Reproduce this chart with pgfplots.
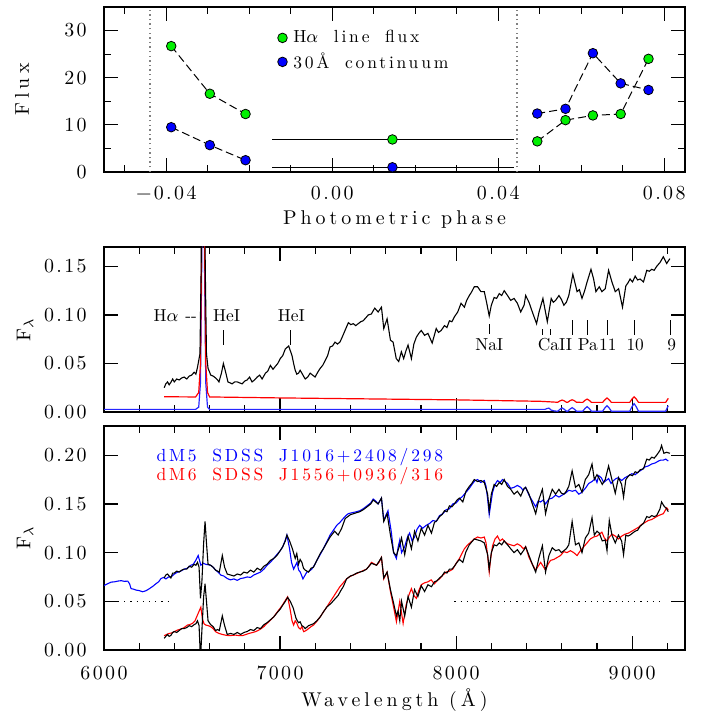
\documentclass[border=0pt]{standalone}
\usepackage{pgfplots}
\pgfplotsset{compat=1.18}
\usepackage{fontspec}
\newfontfamily\lsA[LetterSpace=20]{lmroman10-regular.otf}
\newfontfamily\lsC[LetterSpace=16,WordSpace=1.8]{lmroman10-regular.otf}
\newfontfamily\lsB[LetterSpace=12]{lmroman10-regular.otf}
\newfontfamily\lsN{lmroman10-regular.otf}
\definecolor{pgreen}{RGB}{0,240,0}
\pgfplotsset{
  panel/.style={
    scale only axis, width=290.5bp, scaled ticks=false,
    tick align=inside, major tick length=7bp, minor tick length=3.5bp,
    axis line style={line width=0.7pt},
    every tick/.style={black, line width=0.6pt},
    ticklabel style={font=\lsB\fontsize{10}{12}\selectfont},
    xticklabel style={anchor=center, inner sep=0pt},
    yticklabel style={anchor=east, inner sep=0pt, xshift=-8.5bp},
    label style={font=\lsA\fontsize{10}{12}\selectfont},
    clip=true,
  },
}
\begin{document}
\begin{tikzpicture}
\path[use as bounding box] (0,0) rectangle (356bp,361bp);
% ---------------- top panel
\begin{axis}[panel, height=82.5bp, at={(52bp,275bp)}, anchor=south west,
  xmin=-0.055, xmax=0.085, ymin=0, ymax=35,
  xtick={-0.04,0,0.04,0.08}, xticklabels={−0.04,0.00,0.04,0.08},
  minor xtick={-0.05,-0.03,-0.02,-0.01,0.01,0.02,0.03,0.05,0.06,0.07},
  ytick={0,10,20,30}, yticklabels={0,10,20,30}, minor ytick={5,15,25},
  xticklabel style={yshift=-10.5bp},
  xlabel={Photometric phase}, ylabel={Flux},
  xlabel style={at={(axis description cs:0.5,0)}, anchor=center, yshift=-24bp},
  ylabel style={at={(axis description cs:-0.141,0.5)}, anchor=center},
  legend image code/.code={\draw[#1] plot coordinates {(0cm,0cm)};},
  legend style={at={(axis description cs:0.288,0.735)}, anchor=west, draw=none, fill=none,
    font=\lsC\fontsize{8.8}{9.5}\selectfont, row sep=0.5bp,
    nodes={inner xsep=3bp, inner ysep=1.5bp}},
  legend cell align=left,
]
\addlegendimage{only marks, mark=*, mark size=2.4bp, mark options={fill=pgreen, draw=black, line width=0.4pt}}
\addlegendentry{H{\fontsize{9.5}{9.5}\selectfont$\alpha$} line flux}
\addlegendimage{only marks, mark=*, mark size=2.4bp, mark options={fill=blue, draw=black, line width=0.4pt}}
\addlegendentry{30Å continuum}
\addplot[gray, line width=0.7pt, dash pattern=on 0.7bp off 1.6bp] coordinates {(-0.0439,0) (-0.0439,35)};
\addplot[gray, line width=0.7pt, dash pattern=on 0.7bp off 1.6bp] coordinates {(0.0445,0) (0.0445,35)};
\addplot[black, line width=0.5pt] coordinates {(-0.0145,6.9) (0.0437,6.9)};
\addplot[black, line width=0.5pt] coordinates {(-0.0145,1.0) (0.0437,1.0)};
\addplot[black, line width=0.5pt, dash pattern=on 4bp off 2bp, mark=*, mark size=2.4bp, mark options={solid, fill=pgreen, draw=black, line width=0.4pt}]
  coordinates {(-0.0388,26.7) (-0.0295,16.6) (-0.0209,12.3)};
\addplot[black, line width=0.5pt, dash pattern=on 4bp off 2bp, mark=*, mark size=2.4bp, mark options={solid, fill=blue, draw=black, line width=0.4pt}]
  coordinates {(-0.0388,9.5) (-0.0295,5.7) (-0.0209,2.5)};
\addplot[only marks, mark=*, mark size=2.4bp, mark options={fill=pgreen, draw=black, line width=0.4pt}] coordinates {(0.0145,6.9)};
\addplot[only marks, mark=*, mark size=2.4bp, mark options={fill=blue, draw=black, line width=0.4pt}] coordinates {(0.0145,1.0)};
\addplot[black, line width=0.5pt, dash pattern=on 4bp off 2bp, mark=*, mark size=2.4bp, mark options={solid, fill=blue, draw=black, line width=0.4pt}]
  coordinates {(0.0494,12.4) (0.0562,13.4) (0.0628,25.2) (0.0695,18.8) (0.0762,17.4)};
\addplot[black, line width=0.5pt, dash pattern=on 4bp off 2bp, mark=*, mark size=2.4bp, mark options={solid, fill=pgreen, draw=black, line width=0.4pt}]
  coordinates {(0.0494,6.5) (0.0562,11.0) (0.0628,12.0) (0.0695,12.3) (0.0762,24.0)};
\end{axis}
% ---------------- middle panel
\begin{axis}[panel, height=82.5bp, at={(52bp,155bp)}, anchor=south west,
  xmin=6000, xmax=9300, ymin=0, ymax=0.17,
  xtick={6000,7000,8000,9000}, xticklabels={},
  minor xtick={6200,6400,6600,6800,7200,7400,7600,7800,8200,8400,8600,8800,9200},
  ytick={0,0.05,0.1,0.15}, yticklabels={0.00,0.05,0.10,0.15},
  ylabel={F$_\lambda$},
  ylabel style={at={(axis description cs:-0.136,0.5)}, anchor=center},
  unbounded coords=jump,
]
\addplot[blue!85!white, line width=0.6pt] table {
6000 0.0027
6520 0.0027
6538 0.005
6548 0.03
6555 0.15
6563 0.6
6571 0.15
6578 0.03
6588 0.005
6600 0.0027
8470 0.0027
8505 0.0027
8515 0.0035
8527 0.0040
8540 0.0020
8560 0.0010
8577 0.0008
8590 0.0028
8602 0.0042
8614 0.0028
8627 0.0008
8634 0.0008
8647 0.0030
8659 0.0045
8671 0.0030
8684 0.0008
8719 0.0008
8732 0.0036
8744 0.0055
8756 0.0036
8769 0.0008
8832 0.0008
8845 0.0042
8857 0.0065
8869 0.0042
8882 0.0008
8986 0.0008
8999 0.0055
9011 0.0086
9023 0.0055
9036 0.0008
9190 0.0008
9205 0.0065
};
\addplot[red, line width=0.6pt] table {
6342 0.0157
6520 0.0155
6538 0.020
6548 0.05
6556 0.2
6563 0.6
6570 0.2
6578 0.05
6588 0.020
6600 0.0155
7000 0.0145
7600 0.0133
8000 0.0125
8480 0.0110
8520 0.0106
8577 0.0100
8590 0.0115
8602 0.0123
8614 0.0115
8627 0.0100
8634 0.0100
8647 0.0117
8659 0.0126
8671 0.0117
8684 0.0100
8719 0.0099
8732 0.0120
8744 0.0133
8756 0.0120
8769 0.0099
8832 0.0099
8845 0.0126
8857 0.0144
8869 0.0126
8882 0.0099
8986 0.0099
8999 0.0134
9011 0.0157
9023 0.0134
9036 0.0099
9190 0.0099
9205 0.0140
};
\addplot[black, line width=0.55pt] table {
6342 0.025
6351 0.029
6361 0.031
6370 0.028
6380 0.0306
6390 0.034
6399 0.031
6413 0.034
6427 0.033
6441 0.035
6455 0.036
6470 0.034
6484 0.037
6498 0.038
6512 0.041
6522 0.039
6531 0.046
6545 0.06
6552 0.15
6558 0.40
6563 0.60
6568 0.40
6575 0.15
6582 0.06
6591 0.045
6600 0.041
6606 0.038
6620 0.037
6634 0.035
6645 0.033
6653 0.031
6667 0.040
6678 0.050
6691 0.041
6704 0.031
6716 0.030
6728 0.029
6742 0.031
6757 0.031
6770 0.030
6785 0.029
6800 0.032
6813 0.033
6827 0.036
6841 0.031
6855 0.033
6870 0.036
6884 0.038
6898 0.034
6917 0.040
6930 0.042
6945 0.048
6960 0.044
6973 0.047
6987 0.050
7001 0.055
7015 0.058
7030 0.065
7049 0.068
7068 0.058
7077 0.050
7086 0.043
7095 0.039
7105 0.040
7114 0.043
7124 0.040
7133 0.037
7143 0.034
7157 0.036
7171 0.040
7185 0.038
7199 0.036
7214 0.041
7228 0.045
7242 0.048
7256 0.053
7270 0.058
7284 0.067
7298 0.068
7312 0.072
7326 0.070
7340 0.072
7355 0.078
7369 0.084
7388 0.092
7402 0.090
7416 0.091
7430 0.089
7444 0.091
7458 0.093
7472 0.094
7487 0.097
7501 0.100
7519 0.101
7528 0.104
7538 0.107
7557 0.103
7576 0.108
7589 0.086
7608 0.096
7627 0.074
7642 0.072
7660 0.055
7674 0.052
7689 0.062
7702 0.055
7715 0.063
7727 0.069
7746 0.055
7760 0.070
7774 0.077
7788 0.081
7802 0.084
7821 0.079
7840 0.081
7864 0.071
7887 0.086
7900 0.082
7915 0.084
7934 0.089
7948 0.087
7962 0.094
7976 0.093
7990 0.098
8009 0.103
8028 0.112
8047 0.108
8060 0.115
8075 0.120
8089 0.124
8103 0.129
8122 0.129
8141 0.124
8160 0.124
8173 0.113
8188 0.099
8200 0.110
8216 0.118
8230 0.117
8245 0.122
8259 0.120
8273 0.125
8292 0.120
8310 0.115
8329 0.117
8348 0.112
8367 0.103
8386 0.110
8395 0.120
8414 0.113
8433 0.103
8457 0.091
8471 0.103
8493 0.117
8518 0.093
8540 0.117
8552 0.113
8565 0.115
8584 0.120
8598 0.116
8612 0.110
8626 0.113
8640 0.120
8663 0.142
8687 0.124
8700 0.126
8715 0.117
8730 0.125
8744 0.134
8766 0.147
8781 0.137
8794 0.124
8813 0.129
8828 0.124
8847 0.127
8866 0.146
8885 0.134
8904 0.124
8923 0.127
8945 0.108
8964 0.130
8976 0.133
8988 0.137
9002 0.134
9017 0.140
9031 0.136
9045 0.137
9064 0.134
9083 0.146
9097 0.145
9111 0.147
9125 0.146
9139 0.150
9158 0.154
9177 0.160
9196 0.153
9214 0.158
};
% line identification ticks
\addplot[black, line width=0.5pt] coordinates {
(6678,0.0695) (6678,0.084) (6678,nan)
(7062,0.0695) (7062,0.084) (7062,nan)
(8188,0.0808) (8188,0.091) (8188,nan)
(8493,0.0797) (8493,0.0858) (8493,nan)
(8537,0.0797) (8537,0.0858) (8537,nan)
(8659,0.0797) (8659,0.0945) (8659,nan)
(8744,0.0797) (8744,0.0945) (8744,nan)
(8857,0.0797) (8857,0.0945) (8857,nan)
(9011,0.0797) (9011,0.0945) (9011,nan)
(9220,0.0797) (9220,0.0945)
};
\begin{scope}[every node/.style={font=\lsN\fontsize{8.7}{10}\selectfont, inner sep=0pt}]
\node[anchor=west] at (axis cs:6279,0.099) {H{\fontsize{9.5}{10}\selectfont$\alpha$}\hspace{3.5bp}--};
\node at (axis cs:6696,0.099) {HeI};
\node at (axis cs:7064,0.099) {HeI};
\node at (axis cs:8188,0.0695) {NaI};
\node at (axis cs:8562,0.0695) {CaII};
\node at (axis cs:8748,0.0695) {Pa};
\node at (axis cs:8862,0.0695) {11};
\node at (axis cs:9017,0.0695) {10};
\node at (axis cs:9224,0.0695) {9};
\end{scope}
\end{axis}
% ---------------- bottom panel
\begin{axis}[panel, height=112bp, at={(52bp,36bp)}, anchor=south west,
  xmin=6000, xmax=9300, ymin=0, ymax=0.23,
  xtick={6000,7000,8000,9000}, xticklabels={6000,7000,8000,9000},
  minor xtick={6200,6400,6600,6800,7200,7400,7600,7800,8200,8400,8600,8800,9200},
  ytick={0,0.05,0.1,0.15,0.2}, yticklabels={0.00,0.05,0.10,0.15,0.20},
  xticklabel style={yshift=-11.5bp},
  xlabel={Wavelength (Å)}, ylabel={F$_\lambda$},
  xlabel style={at={(axis description cs:0.5,0)}, anchor=center, yshift=-25bp},
  ylabel style={at={(axis description cs:-0.136,0.5)}, anchor=center},
]
\addplot[black, line width=0.5pt, dash pattern=on 0.6bp off 2.5bp] coordinates {(6080,0.05) (6380,0.05)};
\addplot[black, line width=0.5pt, dash pattern=on 0.6bp off 2.5bp] coordinates {(7990,0.05) (9186,0.05)};
\addplot[blue, line width=0.55pt] table {
6000 0.0662
6020 0.0680
6041 0.0697
6060 0.0700
6080 0.0708
6098 0.0712
6115 0.0705
6135 0.0707
6145 0.0680
6154 0.0630
6168 0.0625
6182 0.0615
6200 0.0610
6220 0.0598
6240 0.0610
6258 0.0630
6278 0.0655
6295 0.0680
6310 0.0700
6324 0.0734
6338 0.0745
6352 0.0730
6366 0.0750
6380 0.0750
6400 0.0780
6418 0.0800
6436 0.0810
6455 0.0830
6474 0.0840
6493 0.0870
6507 0.0880
6521 0.0920
6535 0.0970
6550 0.0870
6564 0.0890
6578 0.0880
6592 0.0875
6606 0.0870
6620 0.0850
6634 0.0820
6648 0.0800
6663 0.0770
6680 0.0760
6700 0.0734
6718 0.0720
6738 0.0730
6757 0.0715
6776 0.0734
6795 0.0740
6813 0.0750
6832 0.0745
6851 0.0770
6870 0.0785
6889 0.0800
6908 0.0830
6926 0.0870
6945 0.0900
6964 0.0940
6982 0.0980
7001 0.1020
7015 0.1060
7030 0.1130
7039 0.1180
7054 0.1040
7065 0.0900
7077 0.0830
7096 0.0900
7106 0.0820
7115 0.0800
7130 0.0730
7152 0.0800
7166 0.0810
7180 0.0830
7195 0.0870
7209 0.0920
7228 0.0980
7246 0.1040
7265 0.1110
7284 0.1180
7303 0.1230
7322 0.1280
7340 0.1310
7359 0.1350
7374 0.1380
7388 0.1400
7410 0.1410
7435 0.1420
7453 0.1430
7472 0.1450
7487 0.1470
7501 0.1490
7515 0.1510
7529 0.1550
7543 0.1530
7557 0.1500
7576 0.1560
7589 0.1330
7600 0.1380
7613 0.1430
7632 0.1210
7645 0.1000
7661 0.0940
7670 0.1050
7680 0.1130
7690 0.1000
7708 0.1060
7722 0.1150
7736 0.1200
7750 0.1120
7764 0.1160
7778 0.1240
7793 0.1280
7810 0.1250
7830 0.1280
7850 0.1300
7868 0.1330
7887 0.1320
7906 0.1380
7925 0.1400
7943 0.1440
7962 0.1450
7981 0.1500
8000 0.1510
8019 0.1550
8038 0.1580
8056 0.1620
8075 0.1660
8094 0.1710
8108 0.1740
8122 0.1750
8140 0.1720
8160 0.1740
8170 0.1680
8179 0.1550
8188 0.1390
8197 0.1500
8207 0.1620
8221 0.1700
8235 0.1740
8250 0.1720
8263 0.1750
8278 0.1730
8292 0.1710
8310 0.1660
8329 0.1670
8348 0.1690
8367 0.1670
8380 0.1640
8395 0.1670
8414 0.1590
8433 0.1530
8452 0.1470
8466 0.1530
8480 0.1520
8494 0.1540
8508 0.1500
8527 0.1550
8546 0.1560
8565 0.1590
8584 0.1570
8602 0.1590
8621 0.1610
8640 0.1640
8660 0.1630
8678 0.1640
8697 0.1600
8715 0.1620
8734 0.1660
8753 0.1710
8772 0.1730
8791 0.1760
8800 0.1720
8810 0.1790
8824 0.1770
8838 0.1720
8852 0.1740
8866 0.1760
8880 0.1710
8894 0.1740
8908 0.1760
8922 0.1770
8940 0.1740
8960 0.1770
8980 0.1790
8998 0.1810
9017 0.1800
9036 0.1830
9054 0.1850
9073 0.1880
9092 0.1890
9111 0.1910
9130 0.1920
9149 0.1940
9163 0.1950
9177 0.1950
9191 0.1960
9205 0.1940
};
\addplot[black, line width=0.55pt] table {
6342 0.074
6351 0.077
6361 0.078
6370 0.076
6380 0.074
6390 0.079
6399 0.079
6413 0.081
6427 0.080
6441 0.082
6455 0.083
6470 0.083
6484 0.086
6498 0.085
6512 0.088
6522 0.087
6531 0.090
6540 0.085
6548 0.053
6556 0.070
6566 0.110
6574 0.132
6582 0.110
6591 0.088
6606 0.087
6620 0.085
6634 0.082
6645 0.081
6655 0.080
6672 0.097
6685 0.085
6700 0.078
6719 0.077
6738 0.076
6757 0.078
6776 0.077
6795 0.080
6813 0.079
6832 0.082
6851 0.080
6870 0.084
6889 0.082
6908 0.086
6926 0.088
6945 0.092
6964 0.094
6982 0.097
7001 0.102
7015 0.106
7030 0.112
7039 0.118
7054 0.112
7070 0.104
7086 0.094
7095 0.099
7105 0.088
7114 0.093
7124 0.090
7133 0.084
7143 0.082
7162 0.080
7176 0.084
7190 0.085
7209 0.092
7228 0.099
7246 0.104
7265 0.110
7284 0.116
7310 0.122
7330 0.118
7350 0.125
7370 0.135
7385 0.137
7400 0.139
7418 0.140
7435 0.141
7453 0.142
7472 0.144
7487 0.146
7501 0.148
7515 0.150
7529 0.154
7543 0.152
7557 0.150
7576 0.156
7589 0.132
7608 0.140
7627 0.118
7645 0.100
7661 0.097
7680 0.108
7690 0.115
7708 0.098
7727 0.117
7746 0.104
7764 0.122
7783 0.112
7802 0.125
7821 0.118
7840 0.128
7860 0.120
7877 0.131
7891 0.133
7906 0.137
7920 0.139
7934 0.143
7948 0.142
7962 0.148
7976 0.147
7990 0.150
8005 0.154
8019 0.156
8038 0.152
8056 0.163
8075 0.168
8089 0.171
8103 0.175
8122 0.173
8141 0.174
8160 0.172
8179 0.160
8188 0.143
8200 0.160
8216 0.170
8230 0.168
8245 0.172
8259 0.170
8273 0.175
8292 0.168
8310 0.165
8329 0.160
8348 0.163
8367 0.158
8386 0.166
8395 0.167
8414 0.160
8433 0.150
8452 0.140
8471 0.155
8490 0.165
8508 0.140
8527 0.155
8546 0.165
8565 0.160
8584 0.165
8598 0.161
8612 0.160
8626 0.163
8640 0.168
8659 0.184
8678 0.167
8697 0.170
8715 0.162
8734 0.175
8753 0.180
8772 0.191
8785 0.175
8800 0.180
8813 0.176
8830 0.170
8847 0.175
8866 0.189
8885 0.175
8904 0.161
8922 0.177
8940 0.170
8951 0.157
8964 0.175
8976 0.178
8988 0.180
9002 0.179
9017 0.183
9031 0.182
9045 0.185
9064 0.186
9083 0.196
9097 0.195
9111 0.198
9125 0.197
9139 0.200
9158 0.205
9167 0.210
9180 0.202
9196 0.203
9214 0.202
};
\addplot[red, line width=0.55pt] table {
6342 0.0147
6356 0.0160
6370 0.0170
6385 0.0175
6399 0.0188
6418 0.0205
6437 0.0215
6455 0.0230
6474 0.0256
6488 0.0262
6503 0.0273
6517 0.0300
6531 0.0360
6550 0.0440
6559 0.0320
6568 0.0270
6578 0.0256
6592 0.0250
6606 0.0239
6620 0.0220
6634 0.0188
6653 0.0170
6672 0.0160
6691 0.0152
6710 0.0147
6728 0.0150
6747 0.0153
6766 0.0148
6785 0.0147
6804 0.0158
6823 0.0170
6841 0.0178
6860 0.0188
6875 0.0200
6889 0.0215
6908 0.0240
6926 0.0273
6945 0.0305
6964 0.0340
6982 0.0385
7001 0.0430
7015 0.0465
7030 0.0510
7043 0.0546
7058 0.0410
7068 0.0300
7077 0.0256
7086 0.0300
7096 0.0273
7105 0.0230
7115 0.0215
7124 0.0240
7134 0.0188
7148 0.0200
7162 0.0220
7176 0.0240
7190 0.0256
7209 0.0295
7228 0.0340
7246 0.0390
7265 0.0440
7284 0.0495
7303 0.0546
7322 0.0600
7340 0.0650
7359 0.0690
7378 0.0730
7397 0.0755
7416 0.0770
7435 0.0785
7453 0.0800
7472 0.0815
7491 0.0830
7505 0.0860
7519 0.0900
7534 0.0885
7548 0.0870
7562 0.0900
7576 0.0950
7589 0.0730
7608 0.0800
7627 0.0600
7645 0.0440
7661 0.0290
7680 0.0500
7699 0.0273
7717 0.0470
7731 0.0560
7746 0.0630
7760 0.0560
7774 0.0530
7788 0.0610
7802 0.0670
7821 0.0690
7840 0.0700
7858 0.0720
7877 0.0680
7891 0.0710
7906 0.0730
7925 0.0770
7943 0.0800
7962 0.0810
7981 0.0830
8000 0.0890
8019 0.0940
8033 0.0990
8047 0.1040
8066 0.1080
8085 0.1110
8103 0.1140
8122 0.1160
8141 0.1150
8160 0.1160
8170 0.1100
8179 0.0970
8188 0.0800
8197 0.0950
8207 0.1070
8221 0.1140
8235 0.1170
8249 0.1120
8263 0.1140
8278 0.1110
8292 0.1090
8310 0.1080
8329 0.1070
8348 0.1090
8367 0.1070
8381 0.1040
8395 0.1060
8414 0.0950
8433 0.0880
8452 0.0820
8466 0.0860
8480 0.0900
8494 0.0860
8508 0.0820
8522 0.0880
8536 0.0920
8555 0.0930
8574 0.0950
8593 0.0970
8612 0.1010
8630 0.1000
8649 0.1020
8668 0.1000
8687 0.0970
8706 0.1020
8725 0.1060
8744 0.1100
8762 0.1140
8781 0.1160
8800 0.1170
8814 0.1190
8828 0.1210
8842 0.1150
8857 0.1120
8871 0.1160
8885 0.1190
8904 0.1170
8922 0.1140
8941 0.1170
8960 0.1190
8979 0.1200
8998 0.1220
9017 0.1240
9036 0.1260
9054 0.1290
9073 0.1310
9092 0.1330
9111 0.1340
9130 0.1360
9149 0.1380
9163 0.1390
9177 0.1400
9196 0.1460
9205 0.1440
};
\addplot[black, line width=0.55pt] table {
6342 0.012
6351 0.014
6361 0.016
6370 0.014
6380 0.015
6390 0.018
6399 0.019
6413 0.018
6427 0.020
6441 0.022
6455 0.022
6470 0.023
6484 0.025
6498 0.024
6512 0.026
6522 0.027
6531 0.030
6540 0.025
6548 -0.010
6556 0.020
6566 0.055
6574 0.068
6582 0.050
6591 0.030
6606 0.026
6620 0.024
6634 0.020
6645 0.021
6655 0.020
6672 0.035
6685 0.025
6700 0.016
6719 0.017
6738 0.016
6757 0.018
6776 0.016
6795 0.018
6813 0.019
6832 0.021
6851 0.020
6870 0.023
6889 0.022
6908 0.026
6926 0.028
6945 0.031
6964 0.034
6982 0.038
7001 0.042
7015 0.046
7030 0.050
7043 0.054
7058 0.050
7075 0.043
7090 0.033
7098 0.030
7105 0.028
7114 0.029
7124 0.025
7133 0.024
7143 0.022
7162 0.025
7176 0.026
7190 0.027
7209 0.030
7228 0.034
7246 0.039
7265 0.044
7290 0.048
7310 0.052
7330 0.056
7345 0.061
7359 0.065
7378 0.073
7400 0.076
7416 0.077
7435 0.079
7453 0.080
7472 0.081
7491 0.083
7505 0.086
7519 0.089
7534 0.088
7548 0.087
7562 0.091
7576 0.095
7589 0.074
7608 0.080
7627 0.062
7645 0.048
7661 0.035
7670 0.040
7680 0.030
7690 0.050
7708 0.035
7727 0.055
7746 0.044
7764 0.062
7783 0.055
7802 0.066
7821 0.060
7840 0.067
7860 0.065
7877 0.070
7891 0.071
7906 0.074
7920 0.076
7934 0.080
7948 0.079
7962 0.083
7976 0.083
7990 0.086
8005 0.090
8019 0.093
8038 0.090
8056 0.101
8075 0.108
8089 0.111
8103 0.114
8122 0.113
8141 0.112
8160 0.110
8179 0.098
8188 0.083
8200 0.100
8216 0.108
8230 0.107
8245 0.110
8259 0.108
8273 0.112
8292 0.108
8310 0.104
8329 0.100
8348 0.103
8367 0.098
8386 0.103
8395 0.106
8414 0.097
8433 0.088
8452 0.080
8471 0.095
8490 0.107
8508 0.080
8527 0.097
8546 0.105
8565 0.102
8584 0.103
8598 0.100
8612 0.102
8626 0.104
8640 0.108
8659 0.132
8678 0.108
8697 0.110
8715 0.100
8734 0.115
8753 0.120
8772 0.136
8785 0.118
8800 0.122
8813 0.120
8830 0.112
8847 0.113
8857 0.102
8870 0.133
8885 0.118
8904 0.110
8922 0.118
8940 0.112
8951 0.098
8964 0.118
8976 0.117
8988 0.118
9002 0.120
9017 0.122
9031 0.123
9045 0.127
9064 0.130
9083 0.137
9097 0.136
9111 0.138
9125 0.137
9139 0.138
9158 0.145
9167 0.152
9180 0.148
9196 0.145
9205 0.142
};
\node[anchor=west, inner sep=0pt, text=blue, font=\lsC\fontsize{8.8}{10}\selectfont] at (axis cs:6296,0.198) {dM5 SDSS J1016+2408/298};
\node[anchor=west, inner sep=0pt, text=red, font=\lsC\fontsize{8.8}{10}\selectfont] at (axis cs:6296,0.179) {dM6 SDSS J1556+0936/316};
\end{axis}
\end{tikzpicture}
\end{document}
